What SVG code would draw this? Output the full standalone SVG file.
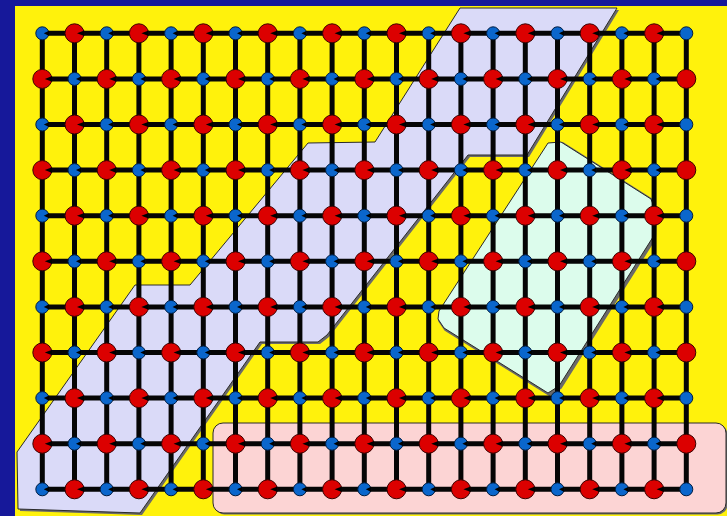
<svg xmlns="http://www.w3.org/2000/svg" xmlns:xlink="http://www.w3.org/1999/xlink" width="727" height="516" viewBox="0 0 727 516">
<style>
.edges line{stroke:#050505;stroke-width:5}
.rc{fill:#dc0000;stroke:#3a0000;stroke-width:1}
.bc{fill:#0a66cc;stroke:#001c40;stroke-width:1}
.nt{fill:#000}
.reg{stroke:#2a2a2a;stroke-width:1}
.sh{fill:#6a6a6a}
</style>
<defs>
<g id="R"><circle r="9.5" class="rc"/><polygon class="nt" points="2.5,0 9.8,-2.8 9.8,2.8"/></g>
<g id="B"><circle r="6.5" class="bc"/><polygon class="nt" points="1.5,0 6.8,-2.6 6.8,2.6"/></g>
<g id="R2"><circle r="9.5" class="rc"/></g>
<g id="B2"><circle r="6.5" class="bc"/></g>
</defs>
<rect x="0" y="0" width="727" height="516" fill="#16189a"/>
<rect x="15" y="6" width="712" height="510" fill="#fff20c"/>
<g id="regions">
<polygon class="sh" transform="translate(2,2)" points="460,8 617,8 527,155 468,155 327,335 318,342 260,342 140,513 18,509 17,452 135,285 190,285 308,143 375,142"/>
<polygon id="lavender" class="reg" fill="#dadaf8" points="460,8 617,8 527,155 468,155 327,335 318,342 260,342 140,513 18,509 17,452 135,285 190,285 308,143 375,142"/>
<polygon class="sh" transform="translate(1.5,1.5)" stroke="#6a6a6a" stroke-width="3" stroke-linejoin="round" points="548,143 561,142 651,199 654,207 653,237 559,386 548,393 444,328 438,319 439,311"/>
<polygon id="mint" class="reg" fill="#dcfcec" stroke-linejoin="round" points="548,143 561,142 651,199 654,207 653,237 559,386 548,393 444,328 438,319 439,311"/>
<rect x="214.5" y="424.5" width="513" height="90" rx="10" class="sh"/>
<rect id="pink" x="213" y="423" width="513" height="90" rx="10" class="reg" fill="#fcd4d4"/>
</g>
<g id="connectors" class="edges">
<g transform="translate(0,33.3)"><line x1="42.3" x2="74.5"/><line x1="74.5" x2="106.7"/><line x1="106.7" x2="138.9"/><line x1="138.9" x2="171.1"/><line x1="171.1" x2="203.3"/><line x1="203.3" x2="235.5"/><line x1="235.5" x2="267.7"/><line x1="267.7" x2="299.9"/><line x1="299.9" x2="332.1"/><line x1="332.1" x2="364.3"/><line x1="364.3" x2="396.5"/><line x1="396.5" x2="428.7"/><line x1="428.7" x2="460.9"/><line x1="460.9" x2="493.1"/><line x1="493.1" x2="525.3"/><line x1="525.3" x2="557.5"/><line x1="557.5" x2="589.7"/><line x1="589.7" x2="621.9"/><line x1="621.9" x2="654.1"/><line x1="654.1" x2="686.3"/></g>
<g transform="translate(0,78.9)"><line x1="42.3" x2="74.5"/><line x1="74.5" x2="106.7"/><line x1="106.7" x2="138.9"/><line x1="138.9" x2="171.1"/><line x1="171.1" x2="203.3"/><line x1="203.3" x2="235.5"/><line x1="235.5" x2="267.7"/><line x1="267.7" x2="299.9"/><line x1="299.9" x2="332.1"/><line x1="332.1" x2="364.3"/><line x1="364.3" x2="396.5"/><line x1="396.5" x2="428.7"/><line x1="428.7" x2="460.9"/><line x1="460.9" x2="493.1"/><line x1="493.1" x2="525.3"/><line x1="525.3" x2="557.5"/><line x1="557.5" x2="589.7"/><line x1="589.7" x2="621.9"/><line x1="621.9" x2="654.1"/><line x1="654.1" x2="686.3"/></g>
<g transform="translate(0,124.5)"><line x1="42.3" x2="74.5"/><line x1="74.5" x2="106.7"/><line x1="106.7" x2="138.9"/><line x1="138.9" x2="171.1"/><line x1="171.1" x2="203.3"/><line x1="203.3" x2="235.5"/><line x1="235.5" x2="267.7"/><line x1="267.7" x2="299.9"/><line x1="299.9" x2="332.1"/><line x1="332.1" x2="364.3"/><line x1="364.3" x2="396.5"/><line x1="396.5" x2="428.7"/><line x1="428.7" x2="460.9"/><line x1="460.9" x2="493.1"/><line x1="493.1" x2="525.3"/><line x1="525.3" x2="557.5"/><line x1="557.5" x2="589.7"/><line x1="589.7" x2="621.9"/><line x1="621.9" x2="654.1"/><line x1="654.1" x2="686.3"/></g>
<g transform="translate(0,170.1)"><line x1="42.3" x2="74.5"/><line x1="74.5" x2="106.7"/><line x1="106.7" x2="138.9"/><line x1="138.9" x2="171.1"/><line x1="171.1" x2="203.3"/><line x1="203.3" x2="235.5"/><line x1="235.5" x2="267.7"/><line x1="267.7" x2="299.9"/><line x1="299.9" x2="332.1"/><line x1="332.1" x2="364.3"/><line x1="364.3" x2="396.5"/><line x1="396.5" x2="428.7"/><line x1="428.7" x2="460.9"/><line x1="460.9" x2="493.1"/><line x1="493.1" x2="525.3"/><line x1="525.3" x2="557.5"/><line x1="557.5" x2="589.7"/><line x1="589.7" x2="621.9"/><line x1="621.9" x2="654.1"/><line x1="654.1" x2="686.3"/></g>
<g transform="translate(0,215.7)"><line x1="42.3" x2="74.5"/><line x1="74.5" x2="106.7"/><line x1="106.7" x2="138.9"/><line x1="138.9" x2="171.1"/><line x1="171.1" x2="203.3"/><line x1="203.3" x2="235.5"/><line x1="235.5" x2="267.7"/><line x1="267.7" x2="299.9"/><line x1="299.9" x2="332.1"/><line x1="332.1" x2="364.3"/><line x1="364.3" x2="396.5"/><line x1="396.5" x2="428.7"/><line x1="428.7" x2="460.9"/><line x1="460.9" x2="493.1"/><line x1="493.1" x2="525.3"/><line x1="525.3" x2="557.5"/><line x1="557.5" x2="589.7"/><line x1="589.7" x2="621.9"/><line x1="621.9" x2="654.1"/><line x1="654.1" x2="686.3"/></g>
<g transform="translate(0,261.3)"><line x1="42.3" x2="74.5"/><line x1="74.5" x2="106.7"/><line x1="106.7" x2="138.9"/><line x1="138.9" x2="171.1"/><line x1="171.1" x2="203.3"/><line x1="203.3" x2="235.5"/><line x1="235.5" x2="267.7"/><line x1="267.7" x2="299.9"/><line x1="299.9" x2="332.1"/><line x1="332.1" x2="364.3"/><line x1="364.3" x2="396.5"/><line x1="396.5" x2="428.7"/><line x1="428.7" x2="460.9"/><line x1="460.9" x2="493.1"/><line x1="493.1" x2="525.3"/><line x1="525.3" x2="557.5"/><line x1="557.5" x2="589.7"/><line x1="589.7" x2="621.9"/><line x1="621.9" x2="654.1"/><line x1="654.1" x2="686.3"/></g>
<g transform="translate(0,306.9)"><line x1="42.3" x2="74.5"/><line x1="74.5" x2="106.7"/><line x1="106.7" x2="138.9"/><line x1="138.9" x2="171.1"/><line x1="171.1" x2="203.3"/><line x1="203.3" x2="235.5"/><line x1="235.5" x2="267.7"/><line x1="267.7" x2="299.9"/><line x1="299.9" x2="332.1"/><line x1="332.1" x2="364.3"/><line x1="364.3" x2="396.5"/><line x1="396.5" x2="428.7"/><line x1="428.7" x2="460.9"/><line x1="460.9" x2="493.1"/><line x1="493.1" x2="525.3"/><line x1="525.3" x2="557.5"/><line x1="557.5" x2="589.7"/><line x1="589.7" x2="621.9"/><line x1="621.9" x2="654.1"/><line x1="654.1" x2="686.3"/></g>
<g transform="translate(0,352.5)"><line x1="42.3" x2="74.5"/><line x1="74.5" x2="106.7"/><line x1="106.7" x2="138.9"/><line x1="138.9" x2="171.1"/><line x1="171.1" x2="203.3"/><line x1="203.3" x2="235.5"/><line x1="235.5" x2="267.7"/><line x1="267.7" x2="299.9"/><line x1="299.9" x2="332.1"/><line x1="332.1" x2="364.3"/><line x1="364.3" x2="396.5"/><line x1="396.5" x2="428.7"/><line x1="428.7" x2="460.9"/><line x1="460.9" x2="493.1"/><line x1="493.1" x2="525.3"/><line x1="525.3" x2="557.5"/><line x1="557.5" x2="589.7"/><line x1="589.7" x2="621.9"/><line x1="621.9" x2="654.1"/><line x1="654.1" x2="686.3"/></g>
<g transform="translate(0,398.1)"><line x1="42.3" x2="74.5"/><line x1="74.5" x2="106.7"/><line x1="106.7" x2="138.9"/><line x1="138.9" x2="171.1"/><line x1="171.1" x2="203.3"/><line x1="203.3" x2="235.5"/><line x1="235.5" x2="267.7"/><line x1="267.7" x2="299.9"/><line x1="299.9" x2="332.1"/><line x1="332.1" x2="364.3"/><line x1="364.3" x2="396.5"/><line x1="396.5" x2="428.7"/><line x1="428.7" x2="460.9"/><line x1="460.9" x2="493.1"/><line x1="493.1" x2="525.3"/><line x1="525.3" x2="557.5"/><line x1="557.5" x2="589.7"/><line x1="589.7" x2="621.9"/><line x1="621.9" x2="654.1"/><line x1="654.1" x2="686.3"/></g>
<g transform="translate(0,443.7)"><line x1="42.3" x2="74.5"/><line x1="74.5" x2="106.7"/><line x1="106.7" x2="138.9"/><line x1="138.9" x2="171.1"/><line x1="171.1" x2="203.3"/><line x1="203.3" x2="235.5"/><line x1="235.5" x2="267.7"/><line x1="267.7" x2="299.9"/><line x1="299.9" x2="332.1"/><line x1="332.1" x2="364.3"/><line x1="364.3" x2="396.5"/><line x1="396.5" x2="428.7"/><line x1="428.7" x2="460.9"/><line x1="460.9" x2="493.1"/><line x1="493.1" x2="525.3"/><line x1="525.3" x2="557.5"/><line x1="557.5" x2="589.7"/><line x1="589.7" x2="621.9"/><line x1="621.9" x2="654.1"/><line x1="654.1" x2="686.3"/></g>
<g transform="translate(0,489.3)"><line x1="42.3" x2="74.5"/><line x1="74.5" x2="106.7"/><line x1="106.7" x2="138.9"/><line x1="138.9" x2="171.1"/><line x1="171.1" x2="203.3"/><line x1="203.3" x2="235.5"/><line x1="235.5" x2="267.7"/><line x1="267.7" x2="299.9"/><line x1="299.9" x2="332.1"/><line x1="332.1" x2="364.3"/><line x1="364.3" x2="396.5"/><line x1="396.5" x2="428.7"/><line x1="428.7" x2="460.9"/><line x1="460.9" x2="493.1"/><line x1="493.1" x2="525.3"/><line x1="525.3" x2="557.5"/><line x1="557.5" x2="589.7"/><line x1="589.7" x2="621.9"/><line x1="621.9" x2="654.1"/><line x1="654.1" x2="686.3"/></g>
<g transform="translate(42.3,0)"><line y1="33.3" y2="78.9"/><line y1="78.9" y2="124.5"/><line y1="124.5" y2="170.1"/><line y1="170.1" y2="215.7"/><line y1="215.7" y2="261.3"/><line y1="261.3" y2="306.9"/><line y1="306.9" y2="352.5"/><line y1="352.5" y2="398.1"/><line y1="398.1" y2="443.7"/><line y1="443.7" y2="489.3"/></g>
<g transform="translate(74.5,0)"><line y1="33.3" y2="78.9"/><line y1="78.9" y2="124.5"/><line y1="124.5" y2="170.1"/><line y1="170.1" y2="215.7"/><line y1="215.7" y2="261.3"/><line y1="261.3" y2="306.9"/><line y1="306.9" y2="352.5"/><line y1="352.5" y2="398.1"/><line y1="398.1" y2="443.7"/><line y1="443.7" y2="489.3"/></g>
<g transform="translate(106.7,0)"><line y1="33.3" y2="78.9"/><line y1="78.9" y2="124.5"/><line y1="124.5" y2="170.1"/><line y1="170.1" y2="215.7"/><line y1="215.7" y2="261.3"/><line y1="261.3" y2="306.9"/><line y1="306.9" y2="352.5"/><line y1="352.5" y2="398.1"/><line y1="398.1" y2="443.7"/><line y1="443.7" y2="489.3"/></g>
<g transform="translate(138.9,0)"><line y1="33.3" y2="78.9"/><line y1="78.9" y2="124.5"/><line y1="124.5" y2="170.1"/><line y1="170.1" y2="215.7"/><line y1="215.7" y2="261.3"/><line y1="261.3" y2="306.9"/><line y1="306.9" y2="352.5"/><line y1="352.5" y2="398.1"/><line y1="398.1" y2="443.7"/><line y1="443.7" y2="489.3"/></g>
<g transform="translate(171.1,0)"><line y1="33.3" y2="78.9"/><line y1="78.9" y2="124.5"/><line y1="124.5" y2="170.1"/><line y1="170.1" y2="215.7"/><line y1="215.7" y2="261.3"/><line y1="261.3" y2="306.9"/><line y1="306.9" y2="352.5"/><line y1="352.5" y2="398.1"/><line y1="398.1" y2="443.7"/><line y1="443.7" y2="489.3"/></g>
<g transform="translate(203.3,0)"><line y1="33.3" y2="78.9"/><line y1="78.9" y2="124.5"/><line y1="124.5" y2="170.1"/><line y1="170.1" y2="215.7"/><line y1="215.7" y2="261.3"/><line y1="261.3" y2="306.9"/><line y1="306.9" y2="352.5"/><line y1="352.5" y2="398.1"/><line y1="398.1" y2="443.7"/><line y1="443.7" y2="489.3"/></g>
<g transform="translate(235.5,0)"><line y1="33.3" y2="78.9"/><line y1="78.9" y2="124.5"/><line y1="124.5" y2="170.1"/><line y1="170.1" y2="215.7"/><line y1="215.7" y2="261.3"/><line y1="261.3" y2="306.9"/><line y1="306.9" y2="352.5"/><line y1="352.5" y2="398.1"/><line y1="398.1" y2="443.7"/><line y1="443.7" y2="489.3"/></g>
<g transform="translate(267.7,0)"><line y1="33.3" y2="78.9"/><line y1="78.9" y2="124.5"/><line y1="124.5" y2="170.1"/><line y1="170.1" y2="215.7"/><line y1="215.7" y2="261.3"/><line y1="261.3" y2="306.9"/><line y1="306.9" y2="352.5"/><line y1="352.5" y2="398.1"/><line y1="398.1" y2="443.7"/><line y1="443.7" y2="489.3"/></g>
<g transform="translate(299.9,0)"><line y1="33.3" y2="78.9"/><line y1="78.9" y2="124.5"/><line y1="124.5" y2="170.1"/><line y1="170.1" y2="215.7"/><line y1="215.7" y2="261.3"/><line y1="261.3" y2="306.9"/><line y1="306.9" y2="352.5"/><line y1="352.5" y2="398.1"/><line y1="398.1" y2="443.7"/><line y1="443.7" y2="489.3"/></g>
<g transform="translate(332.1,0)"><line y1="33.3" y2="78.9"/><line y1="78.9" y2="124.5"/><line y1="124.5" y2="170.1"/><line y1="170.1" y2="215.7"/><line y1="215.7" y2="261.3"/><line y1="261.3" y2="306.9"/><line y1="306.9" y2="352.5"/><line y1="352.5" y2="398.1"/><line y1="398.1" y2="443.7"/><line y1="443.7" y2="489.3"/></g>
<g transform="translate(364.3,0)"><line y1="33.3" y2="78.9"/><line y1="78.9" y2="124.5"/><line y1="124.5" y2="170.1"/><line y1="170.1" y2="215.7"/><line y1="215.7" y2="261.3"/><line y1="261.3" y2="306.9"/><line y1="306.9" y2="352.5"/><line y1="352.5" y2="398.1"/><line y1="398.1" y2="443.7"/><line y1="443.7" y2="489.3"/></g>
<g transform="translate(396.5,0)"><line y1="33.3" y2="78.9"/><line y1="78.9" y2="124.5"/><line y1="124.5" y2="170.1"/><line y1="170.1" y2="215.7"/><line y1="215.7" y2="261.3"/><line y1="261.3" y2="306.9"/><line y1="306.9" y2="352.5"/><line y1="352.5" y2="398.1"/><line y1="398.1" y2="443.7"/><line y1="443.7" y2="489.3"/></g>
<g transform="translate(428.7,0)"><line y1="33.3" y2="78.9"/><line y1="78.9" y2="124.5"/><line y1="124.5" y2="170.1"/><line y1="170.1" y2="215.7"/><line y1="215.7" y2="261.3"/><line y1="261.3" y2="306.9"/><line y1="306.9" y2="352.5"/><line y1="352.5" y2="398.1"/><line y1="398.1" y2="443.7"/><line y1="443.7" y2="489.3"/></g>
<g transform="translate(460.9,0)"><line y1="33.3" y2="78.9"/><line y1="78.9" y2="124.5"/><line y1="124.5" y2="170.1"/><line y1="170.1" y2="215.7"/><line y1="215.7" y2="261.3"/><line y1="261.3" y2="306.9"/><line y1="306.9" y2="352.5"/><line y1="352.5" y2="398.1"/><line y1="398.1" y2="443.7"/><line y1="443.7" y2="489.3"/></g>
<g transform="translate(493.1,0)"><line y1="33.3" y2="78.9"/><line y1="78.9" y2="124.5"/><line y1="124.5" y2="170.1"/><line y1="170.1" y2="215.7"/><line y1="215.7" y2="261.3"/><line y1="261.3" y2="306.9"/><line y1="306.9" y2="352.5"/><line y1="352.5" y2="398.1"/><line y1="398.1" y2="443.7"/><line y1="443.7" y2="489.3"/></g>
<g transform="translate(525.3,0)"><line y1="33.3" y2="78.9"/><line y1="78.9" y2="124.5"/><line y1="124.5" y2="170.1"/><line y1="170.1" y2="215.7"/><line y1="215.7" y2="261.3"/><line y1="261.3" y2="306.9"/><line y1="306.9" y2="352.5"/><line y1="352.5" y2="398.1"/><line y1="398.1" y2="443.7"/><line y1="443.7" y2="489.3"/></g>
<g transform="translate(557.5,0)"><line y1="33.3" y2="78.9"/><line y1="78.9" y2="124.5"/><line y1="124.5" y2="170.1"/><line y1="170.1" y2="215.7"/><line y1="215.7" y2="261.3"/><line y1="261.3" y2="306.9"/><line y1="306.9" y2="352.5"/><line y1="352.5" y2="398.1"/><line y1="398.1" y2="443.7"/><line y1="443.7" y2="489.3"/></g>
<g transform="translate(589.7,0)"><line y1="33.3" y2="78.9"/><line y1="78.9" y2="124.5"/><line y1="124.5" y2="170.1"/><line y1="170.1" y2="215.7"/><line y1="215.7" y2="261.3"/><line y1="261.3" y2="306.9"/><line y1="306.9" y2="352.5"/><line y1="352.5" y2="398.1"/><line y1="398.1" y2="443.7"/><line y1="443.7" y2="489.3"/></g>
<g transform="translate(621.9,0)"><line y1="33.3" y2="78.9"/><line y1="78.9" y2="124.5"/><line y1="124.5" y2="170.1"/><line y1="170.1" y2="215.7"/><line y1="215.7" y2="261.3"/><line y1="261.3" y2="306.9"/><line y1="306.9" y2="352.5"/><line y1="352.5" y2="398.1"/><line y1="398.1" y2="443.7"/><line y1="443.7" y2="489.3"/></g>
<g transform="translate(654.1,0)"><line y1="33.3" y2="78.9"/><line y1="78.9" y2="124.5"/><line y1="124.5" y2="170.1"/><line y1="170.1" y2="215.7"/><line y1="215.7" y2="261.3"/><line y1="261.3" y2="306.9"/><line y1="306.9" y2="352.5"/><line y1="352.5" y2="398.1"/><line y1="398.1" y2="443.7"/><line y1="443.7" y2="489.3"/></g>
<g transform="translate(686.3,0)"><line y1="33.3" y2="78.9"/><line y1="78.9" y2="124.5"/><line y1="124.5" y2="170.1"/><line y1="170.1" y2="215.7"/><line y1="215.7" y2="261.3"/><line y1="261.3" y2="306.9"/><line y1="306.9" y2="352.5"/><line y1="352.5" y2="398.1"/><line y1="398.1" y2="443.7"/><line y1="443.7" y2="489.3"/></g>
</g>
<g id="nodes">
<g transform="translate(0,33.3)"><g id="n0_0"><use href="#B" x="42.3"/></g><g id="n0_1"><use href="#R" x="74.5"/></g><g id="n0_2"><use href="#B" x="106.7"/></g><g id="n0_3"><use href="#R" x="138.9"/></g><g id="n0_4"><use href="#B" x="171.1"/></g><g id="n0_5"><use href="#R" x="203.3"/></g><g id="n0_6"><use href="#B" x="235.5"/></g><g id="n0_7"><use href="#R" x="267.7"/></g><g id="n0_8"><use href="#B" x="299.9"/></g><g id="n0_9"><use href="#R" x="332.1"/></g><g id="n0_10"><use href="#B" x="364.3"/></g><g id="n0_11"><use href="#R" x="396.5"/></g><g id="n0_12"><use href="#B" x="428.7"/></g><g id="n0_13"><use href="#R" x="460.9"/></g><g id="n0_14"><use href="#B" x="493.1"/></g><g id="n0_15"><use href="#R" x="525.3"/></g><g id="n0_16"><use href="#B" x="557.5"/></g><g id="n0_17"><use href="#R" x="589.7"/></g><g id="n0_18"><use href="#B" x="621.9"/></g><g id="n0_19"><use href="#R" x="654.1"/></g><g id="n0_20"><use href="#B2" x="686.3"/></g></g>
<g transform="translate(0,78.9)"><g id="n1_0"><use href="#R" x="42.3"/></g><g id="n1_1"><use href="#B" x="74.5"/></g><g id="n1_2"><use href="#R" x="106.7"/></g><g id="n1_3"><use href="#B" x="138.9"/></g><g id="n1_4"><use href="#R" x="171.1"/></g><g id="n1_5"><use href="#B" x="203.3"/></g><g id="n1_6"><use href="#R" x="235.5"/></g><g id="n1_7"><use href="#B" x="267.7"/></g><g id="n1_8"><use href="#R" x="299.9"/></g><g id="n1_9"><use href="#B" x="332.1"/></g><g id="n1_10"><use href="#R" x="364.3"/></g><g id="n1_11"><use href="#B" x="396.5"/></g><g id="n1_12"><use href="#R" x="428.7"/></g><g id="n1_13"><use href="#B" x="460.9"/></g><g id="n1_14"><use href="#R" x="493.1"/></g><g id="n1_15"><use href="#B" x="525.3"/></g><g id="n1_16"><use href="#R" x="557.5"/></g><g id="n1_17"><use href="#B" x="589.7"/></g><g id="n1_18"><use href="#R" x="621.9"/></g><g id="n1_19"><use href="#B" x="654.1"/></g><g id="n1_20"><use href="#R2" x="686.3"/></g></g>
<g transform="translate(0,124.5)"><g id="n2_0"><use href="#B" x="42.3"/></g><g id="n2_1"><use href="#R" x="74.5"/></g><g id="n2_2"><use href="#B" x="106.7"/></g><g id="n2_3"><use href="#R" x="138.9"/></g><g id="n2_4"><use href="#B" x="171.1"/></g><g id="n2_5"><use href="#R" x="203.3"/></g><g id="n2_6"><use href="#B" x="235.5"/></g><g id="n2_7"><use href="#R" x="267.7"/></g><g id="n2_8"><use href="#B" x="299.9"/></g><g id="n2_9"><use href="#R" x="332.1"/></g><g id="n2_10"><use href="#B" x="364.3"/></g><g id="n2_11"><use href="#R" x="396.5"/></g><g id="n2_12"><use href="#B" x="428.7"/></g><g id="n2_13"><use href="#R" x="460.9"/></g><g id="n2_14"><use href="#B" x="493.1"/></g><g id="n2_15"><use href="#R" x="525.3"/></g><g id="n2_16"><use href="#B" x="557.5"/></g><g id="n2_17"><use href="#R" x="589.7"/></g><g id="n2_18"><use href="#B" x="621.9"/></g><g id="n2_19"><use href="#R" x="654.1"/></g><g id="n2_20"><use href="#B2" x="686.3"/></g></g>
<g transform="translate(0,170.1)"><g id="n3_0"><use href="#R" x="42.3"/></g><g id="n3_1"><use href="#B" x="74.5"/></g><g id="n3_2"><use href="#R" x="106.7"/></g><g id="n3_3"><use href="#B" x="138.9"/></g><g id="n3_4"><use href="#R" x="171.1"/></g><g id="n3_5"><use href="#B" x="203.3"/></g><g id="n3_6"><use href="#R" x="235.5"/></g><g id="n3_7"><use href="#B" x="267.7"/></g><g id="n3_8"><use href="#R" x="299.9"/></g><g id="n3_9"><use href="#B" x="332.1"/></g><g id="n3_10"><use href="#R" x="364.3"/></g><g id="n3_11"><use href="#B" x="396.5"/></g><g id="n3_12"><use href="#R" x="428.7"/></g><g id="n3_13"><use href="#B" x="460.9"/></g><g id="n3_14"><use href="#R" x="493.1"/></g><g id="n3_15"><use href="#B" x="525.3"/></g><g id="n3_16"><use href="#R" x="557.5"/></g><g id="n3_17"><use href="#B" x="589.7"/></g><g id="n3_18"><use href="#R" x="621.9"/></g><g id="n3_19"><use href="#B" x="654.1"/></g><g id="n3_20"><use href="#R2" x="686.3"/></g></g>
<g transform="translate(0,215.7)"><g id="n4_0"><use href="#B" x="42.3"/></g><g id="n4_1"><use href="#R" x="74.5"/></g><g id="n4_2"><use href="#B" x="106.7"/></g><g id="n4_3"><use href="#R" x="138.9"/></g><g id="n4_4"><use href="#B" x="171.1"/></g><g id="n4_5"><use href="#R" x="203.3"/></g><g id="n4_6"><use href="#B" x="235.5"/></g><g id="n4_7"><use href="#R" x="267.7"/></g><g id="n4_8"><use href="#B" x="299.9"/></g><g id="n4_9"><use href="#R" x="332.1"/></g><g id="n4_10"><use href="#B" x="364.3"/></g><g id="n4_11"><use href="#R" x="396.5"/></g><g id="n4_12"><use href="#B" x="428.7"/></g><g id="n4_13"><use href="#R" x="460.9"/></g><g id="n4_14"><use href="#B" x="493.1"/></g><g id="n4_15"><use href="#R" x="525.3"/></g><g id="n4_16"><use href="#B" x="557.5"/></g><g id="n4_17"><use href="#R" x="589.7"/></g><g id="n4_18"><use href="#B" x="621.9"/></g><g id="n4_19"><use href="#R" x="654.1"/></g><g id="n4_20"><use href="#B2" x="686.3"/></g></g>
<g transform="translate(0,261.3)"><g id="n5_0"><use href="#R" x="42.3"/></g><g id="n5_1"><use href="#B" x="74.5"/></g><g id="n5_2"><use href="#R" x="106.7"/></g><g id="n5_3"><use href="#B" x="138.9"/></g><g id="n5_4"><use href="#R" x="171.1"/></g><g id="n5_5"><use href="#B" x="203.3"/></g><g id="n5_6"><use href="#R" x="235.5"/></g><g id="n5_7"><use href="#B" x="267.7"/></g><g id="n5_8"><use href="#R" x="299.9"/></g><g id="n5_9"><use href="#B" x="332.1"/></g><g id="n5_10"><use href="#R" x="364.3"/></g><g id="n5_11"><use href="#B" x="396.5"/></g><g id="n5_12"><use href="#R" x="428.7"/></g><g id="n5_13"><use href="#B" x="460.9"/></g><g id="n5_14"><use href="#R" x="493.1"/></g><g id="n5_15"><use href="#B" x="525.3"/></g><g id="n5_16"><use href="#R" x="557.5"/></g><g id="n5_17"><use href="#B" x="589.7"/></g><g id="n5_18"><use href="#R" x="621.9"/></g><g id="n5_19"><use href="#B" x="654.1"/></g><g id="n5_20"><use href="#R2" x="686.3"/></g></g>
<g transform="translate(0,306.9)"><g id="n6_0"><use href="#B" x="42.3"/></g><g id="n6_1"><use href="#R" x="74.5"/></g><g id="n6_2"><use href="#B" x="106.7"/></g><g id="n6_3"><use href="#R" x="138.9"/></g><g id="n6_4"><use href="#B" x="171.1"/></g><g id="n6_5"><use href="#R" x="203.3"/></g><g id="n6_6"><use href="#B" x="235.5"/></g><g id="n6_7"><use href="#R" x="267.7"/></g><g id="n6_8"><use href="#B" x="299.9"/></g><g id="n6_9"><use href="#R" x="332.1"/></g><g id="n6_10"><use href="#B" x="364.3"/></g><g id="n6_11"><use href="#R" x="396.5"/></g><g id="n6_12"><use href="#B" x="428.7"/></g><g id="n6_13"><use href="#R" x="460.9"/></g><g id="n6_14"><use href="#B" x="493.1"/></g><g id="n6_15"><use href="#R" x="525.3"/></g><g id="n6_16"><use href="#B" x="557.5"/></g><g id="n6_17"><use href="#R" x="589.7"/></g><g id="n6_18"><use href="#B" x="621.9"/></g><g id="n6_19"><use href="#R" x="654.1"/></g><g id="n6_20"><use href="#B2" x="686.3"/></g></g>
<g transform="translate(0,352.5)"><g id="n7_0"><use href="#R" x="42.3"/></g><g id="n7_1"><use href="#B" x="74.5"/></g><g id="n7_2"><use href="#R" x="106.7"/></g><g id="n7_3"><use href="#B" x="138.9"/></g><g id="n7_4"><use href="#R" x="171.1"/></g><g id="n7_5"><use href="#B" x="203.3"/></g><g id="n7_6"><use href="#R" x="235.5"/></g><g id="n7_7"><use href="#B" x="267.7"/></g><g id="n7_8"><use href="#R" x="299.9"/></g><g id="n7_9"><use href="#B" x="332.1"/></g><g id="n7_10"><use href="#R" x="364.3"/></g><g id="n7_11"><use href="#B" x="396.5"/></g><g id="n7_12"><use href="#R" x="428.7"/></g><g id="n7_13"><use href="#B" x="460.9"/></g><g id="n7_14"><use href="#R" x="493.1"/></g><g id="n7_15"><use href="#B" x="525.3"/></g><g id="n7_16"><use href="#R" x="557.5"/></g><g id="n7_17"><use href="#B" x="589.7"/></g><g id="n7_18"><use href="#R" x="621.9"/></g><g id="n7_19"><use href="#B" x="654.1"/></g><g id="n7_20"><use href="#R2" x="686.3"/></g></g>
<g transform="translate(0,398.1)"><g id="n8_0"><use href="#B" x="42.3"/></g><g id="n8_1"><use href="#R" x="74.5"/></g><g id="n8_2"><use href="#B" x="106.7"/></g><g id="n8_3"><use href="#R" x="138.9"/></g><g id="n8_4"><use href="#B" x="171.1"/></g><g id="n8_5"><use href="#R" x="203.3"/></g><g id="n8_6"><use href="#B" x="235.5"/></g><g id="n8_7"><use href="#R" x="267.7"/></g><g id="n8_8"><use href="#B" x="299.9"/></g><g id="n8_9"><use href="#R" x="332.1"/></g><g id="n8_10"><use href="#B" x="364.3"/></g><g id="n8_11"><use href="#R" x="396.5"/></g><g id="n8_12"><use href="#B" x="428.7"/></g><g id="n8_13"><use href="#R" x="460.9"/></g><g id="n8_14"><use href="#B" x="493.1"/></g><g id="n8_15"><use href="#R" x="525.3"/></g><g id="n8_16"><use href="#B" x="557.5"/></g><g id="n8_17"><use href="#R" x="589.7"/></g><g id="n8_18"><use href="#B" x="621.9"/></g><g id="n8_19"><use href="#R" x="654.1"/></g><g id="n8_20"><use href="#B2" x="686.3"/></g></g>
<g transform="translate(0,443.7)"><g id="n9_0"><use href="#R" x="42.3"/></g><g id="n9_1"><use href="#B" x="74.5"/></g><g id="n9_2"><use href="#R" x="106.7"/></g><g id="n9_3"><use href="#B" x="138.9"/></g><g id="n9_4"><use href="#R" x="171.1"/></g><g id="n9_5"><use href="#B" x="203.3"/></g><g id="n9_6"><use href="#R" x="235.5"/></g><g id="n9_7"><use href="#B" x="267.7"/></g><g id="n9_8"><use href="#R" x="299.9"/></g><g id="n9_9"><use href="#B" x="332.1"/></g><g id="n9_10"><use href="#R" x="364.3"/></g><g id="n9_11"><use href="#B" x="396.5"/></g><g id="n9_12"><use href="#R" x="428.7"/></g><g id="n9_13"><use href="#B" x="460.9"/></g><g id="n9_14"><use href="#R" x="493.1"/></g><g id="n9_15"><use href="#B" x="525.3"/></g><g id="n9_16"><use href="#R" x="557.5"/></g><g id="n9_17"><use href="#B" x="589.7"/></g><g id="n9_18"><use href="#R" x="621.9"/></g><g id="n9_19"><use href="#B" x="654.1"/></g><g id="n9_20"><use href="#R2" x="686.3"/></g></g>
<g transform="translate(0,489.3)"><g id="n10_0"><use href="#B" x="42.3"/></g><g id="n10_1"><use href="#R" x="74.5"/></g><g id="n10_2"><use href="#B" x="106.7"/></g><g id="n10_3"><use href="#R" x="138.9"/></g><g id="n10_4"><use href="#B" x="171.1"/></g><g id="n10_5"><use href="#R" x="203.3"/></g><g id="n10_6"><use href="#B" x="235.5"/></g><g id="n10_7"><use href="#R" x="267.7"/></g><g id="n10_8"><use href="#B" x="299.9"/></g><g id="n10_9"><use href="#R" x="332.1"/></g><g id="n10_10"><use href="#B" x="364.3"/></g><g id="n10_11"><use href="#R" x="396.5"/></g><g id="n10_12"><use href="#B" x="428.7"/></g><g id="n10_13"><use href="#R" x="460.9"/></g><g id="n10_14"><use href="#B" x="493.1"/></g><g id="n10_15"><use href="#R" x="525.3"/></g><g id="n10_16"><use href="#B" x="557.5"/></g><g id="n10_17"><use href="#R" x="589.7"/></g><g id="n10_18"><use href="#B" x="621.9"/></g><g id="n10_19"><use href="#R" x="654.1"/></g><g id="n10_20"><use href="#B2" x="686.3"/></g></g>
</g>
</svg>
